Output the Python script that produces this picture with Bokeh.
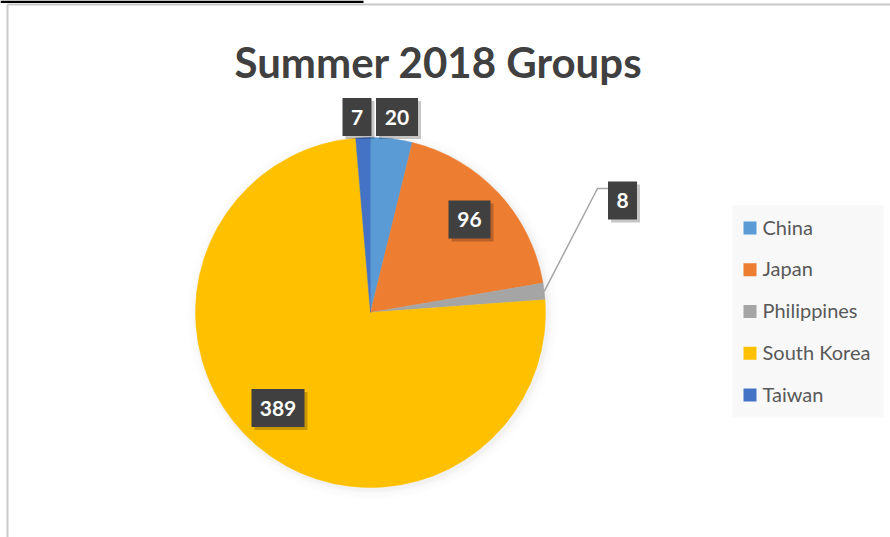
import math
from bokeh.plotting import figure
from bokeh.models import Range1d
from bokeh.core.properties import value
from bokeh.embed import file_html
from bokeh.resources import INLINE

# ---- data ----
categories = ["China", "Japan", "Philippines", "South Korea", "Taiwan"]
counts = [20, 96, 8, 389, 7]
colors = ["#5B9BD5", "#ED7D31", "#A5A5A5", "#FFC000", "#4472C4"]
title_text = "Summer 2018 Groups"

# ---- layout (pixels, measured from top-left) ----
W, H = 890, 537
def Y(py):
    return H - py

cx, cy, R = 370, Y(312), 175
# label box centres / widths (px), per category
label_pos = [(396.5, 116.5), (469, 219), (622, 200), (277.5, 407.5), (356.5, 116.5)]
label_w = [42, 42, 29, 53, 29]
label_h = 38

p = figure(width=W, height=H, x_range=Range1d(0, W), y_range=Range1d(0, H),
           output_backend="svg", toolbar_location=None, min_border=0)
p.axis.visible = False
p.grid.visible = False
p.outline_line_color = None
p.background_fill_color = "white"
p.border_fill_color = "white"

# frame lines from the screenshot
p.quad(left=0, right=363, top=Y(0), bottom=Y(2.5), fill_color="black", line_color=None)
p.segment(x0=[7, 7], y0=[Y(4), Y(4)], x1=[7, W], y1=[Y(H), Y(4)],
          line_color="#c8c8c8", line_width=2)

# soft pie shadow
for k, a in [(10, 0.015), (7, 0.02), (4, 0.03), (2, 0.04)]:
    p.circle(x=cx + 2, y=cy - 2, radius=R + k, fill_color="#808080", fill_alpha=a,
             line_color=None)

# wedges
total = sum(counts)
cum = 0
starts, ends, mids = [], [], []
for c in counts:
    a0 = math.pi / 2 - 2 * math.pi * cum / total
    cum += c
    a1 = math.pi / 2 - 2 * math.pi * cum / total
    starts.append(a0)
    ends.append(a1)
    mids.append((a0 + a1) / 2)

p.wedge(x=[cx] * len(counts), y=[cy] * len(counts), radius=R,
        start_angle=starts, end_angle=ends, direction="clock",
        fill_color=colors, line_color=colors, line_width=0.5)

# leader line for Philippines
i_ph = categories.index("Philippines")
ex = cx + R * math.cos(mids[i_ph])
ey = cy + R * math.sin(mids[i_ph])
lx, ly = label_pos[i_ph]
p.line(x=[ex, 597, lx - label_w[i_ph] / 2], y=[ey, Y(188), Y(188)],
       line_color="#a6a6a6", line_width=1.5)

# label boxes with shadows
bx = [q[0] for q in label_pos]
by = [Y(q[1]) for q in label_pos]
p.rect(x=[v + 3 for v in bx], y=[v - 3 for v in by], width=label_w, height=label_h,
       fill_color="black", fill_alpha=0.22, line_color=None)
p.rect(x=bx, y=by, width=label_w, height=label_h, fill_color="#404040", line_color=None)
p.text(x=bx, y=by, text=[str(c) for c in counts], text_color="white",
       text_font=value("Lato"), text_font_style="bold", text_font_size="21px",
       text_align="center", text_baseline="middle")

# title
p.text(x=[438], y=[Y(61)], text=[title_text], text_color="#404040",
       text_font=value("Lato"), text_font_style="bold", text_font_size="42px",
       text_align="center", text_baseline="middle")

# legend
p.quad(left=732, right=883, top=Y(205), bottom=Y(417), fill_color="#f8f8f8", line_color=None)
ly_list = [Y(227.5 + 41.75 * i) for i in range(len(categories))]
p.rect(x=[749.5] * len(categories), y=ly_list, width=13, height=13,
       fill_color=colors, line_color=None)
p.text(x=[762] * len(categories), y=[v + 1.5 for v in ly_list], text=categories,
       text_color="#595959", text_font=value("Lato"), text_font_size="20px",
       text_align="left", text_baseline="middle")

open("out.html", "w").write(file_html(p, INLINE))
